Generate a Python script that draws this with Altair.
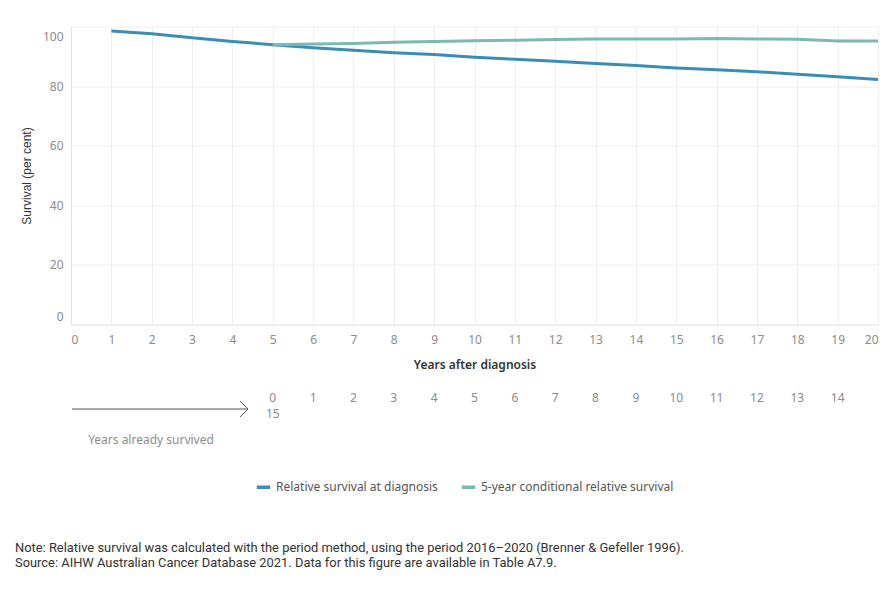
import altair as alt
import pandas as pd

# Relative survival from diagnosis, years 1-20 (per cent)
years_at_diagnosis = list(range(1, 21))
relative_survival = [98.5, 97.6, 96.2, 95.0, 93.9, 92.9, 92.0, 91.2, 90.6, 89.7,
                     89.0, 88.3, 87.6, 86.9, 86.1, 85.5, 84.8, 84.0, 83.1, 82.2]

# 5-year conditional relative survival, given 0-15 years already survived
years_survived = list(range(0, 16))
conditional_survival = [93.9, 94.1, 94.3, 94.7, 95.0, 95.2, 95.4, 95.6, 95.8, 95.8,
                        95.8, 96.0, 95.8, 95.7, 95.1, 95.1]

# Labels for the "years already survived" scale, placed at years after diagnosis
survived_labels = ["0\n15"] + [str(v) for v in range(1, 15)]
survived_positions = list(range(5, 20))

series_names = ["Relative survival at diagnosis", "5-year conditional relative survival"]
series_colors = ["#3a8eb5", "#7bbab0"]

note_lines = [
    "Note: Relative survival was calculated with the period method, using the period 2016\u20132020 (Brenner & Gefeller 1996).",
    "Source: AIHW Australian Cancer Database 2021. Data for this figure are available in Table A7.9.",
]

FONT = "Noto Sans"
W, H = 807, 298

lines_df = pd.concat([
    pd.DataFrame({"year": years_at_diagnosis, "survival": relative_survival,
                  "series": series_names[0]}),
    pd.DataFrame({"year": [y + 5 for y in years_survived], "survival": conditional_survival,
                  "series": series_names[1]}),
])

x_scale = alt.Scale(domain=[0, 20], nice=False)
y_scale = alt.Scale(domain=[0, 100], nice=False)

lines = alt.Chart(lines_df).mark_line(strokeWidth=3).encode(
    x=alt.X("year:Q", scale=x_scale,
            axis=alt.Axis(title="Years after diagnosis", values=list(range(0, 21)),
                          labelFlush=True, tickSize=0, labelPadding=10,
                          labelFont=FONT, labelFontSize=12, labelColor="#8c8c8c",
                          titleFont=FONT, titleFontSize=12, titleFontWeight=600,
                          titleColor="#333333", titlePadding=14,
                          grid=True, gridColor="#eeeeee",
                          domainColor="#e4e4e4")),
    y=alt.Y("survival:Q", scale=y_scale,
            axis=alt.Axis(title="Survival (per cent)", values=[0, 20, 40, 60, 80, 100],
                          labelFlush=False, tickSize=0, labelPadding=8,
                          labelOffset={"condition": [
                              {"test": "datum.value == 100", "value": 10},
                              {"test": "datum.value == 0", "value": -8}],
                              "value": 0},
                          labelFont=FONT, labelFontSize=12, labelColor="#8c8c8c",
                          titleFont="Liberation Sans", titleFontSize=12,
                          titleFontWeight="normal",
                          titleColor="#333333", titleX=-38, titleY=H / 2,
                          grid=True, gridColor="#eeeeee",
                          domainColor="#e4e4e4")),
    color=alt.Color("series:N",
                    scale=alt.Scale(domain=series_names, range=series_colors),
                    legend=alt.Legend(title=None, orient="none", direction="horizontal",
                                      legendX=184, legendY=452,
                                      symbolType="stroke", symbolStrokeWidth=3.5,
                                      symbolSize=180, columnPadding=16, labelLimit=0,
                                      labelFont=FONT, labelFontSize=12,
                                      labelColor="#555555")),
    order=alt.Order("year:Q"),
)

survived_df = pd.DataFrame({"pos": survived_positions, "label": survived_labels})
survived_text = alt.Chart(survived_df).mark_text(
    font=FONT, fontSize=12, color="#8c8c8c", baseline="middle", lineBreak="\n",
    lineHeight=16, align="center",
).encode(
    x=alt.X("pos:Q", scale=x_scale),
    y=alt.value(371.5),
    text="label:N",
)

arrow_df = pd.DataFrame({"x": [1, 169, 169], "x2": [177, 177, 177],
                         "y": [382.5, 374.5, 390.5], "y2": [382.5, 382.5, 382.5]})
arrow = alt.Chart(arrow_df).mark_rule(color="#555555", strokeWidth=1).encode(
    x=alt.X("x:Q", scale=None), x2="x2:Q",
    y=alt.Y("y:Q", scale=None), y2="y2:Q",
)

survived_title = alt.Chart(pd.DataFrame({"t": ["Years already survived"]})).mark_text(
    font=FONT, fontSize=12, color="#8c8c8c", align="center", baseline="middle",
).encode(x=alt.value(80), y=alt.value(413.5), text="t:N")

notes_df = pd.DataFrame({"line": note_lines, "row": [0, 1]})
notes = alt.Chart(notes_df).mark_text(
    font="Roboto", fontSize=12.9, color="#333333",
    align="left", baseline="middle",
).encode(
    x=alt.value(-56),
    y=alt.Y("row:Q", scale=alt.Scale(domain=[0, 1], range=[521.5, 536.5]), axis=None),
    text="line:N",
)

chart = alt.layer(lines, survived_text, arrow, survived_title, notes).properties(
    width=W, height=H,
    autosize=alt.AutoSizeParams(type="none"),
    padding={"left": 71, "top": 26.5, "right": 12, "bottom": 275.5},
).configure_view(stroke=None).resolve_scale(y="independent")

chart.save("out.html", embed_options={"renderer": "svg", "actions": False})
